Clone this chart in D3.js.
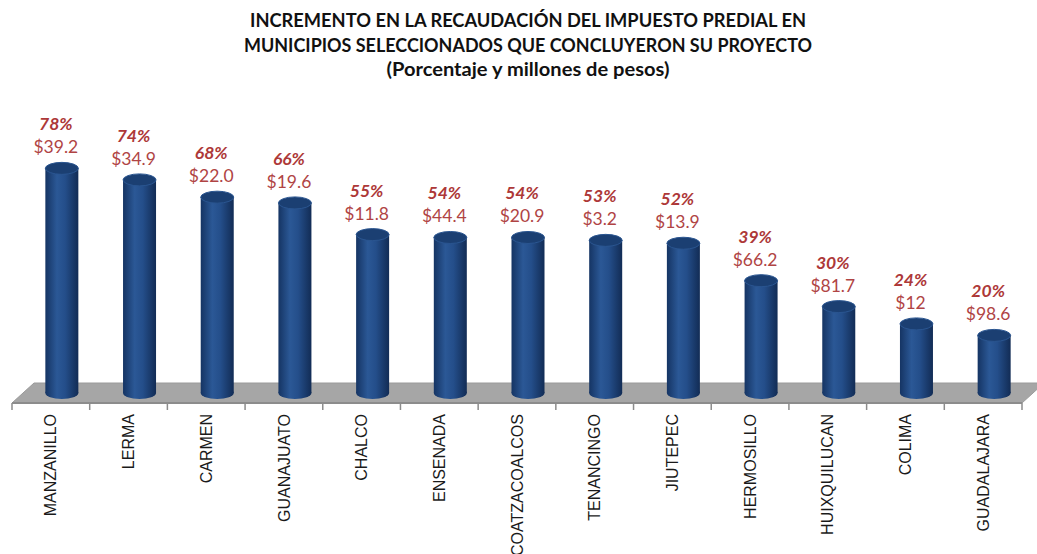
<!DOCTYPE html>
<html>
<head>
<meta charset="utf-8">
<script src="https://cdn.jsdelivr.net/npm/d3@7"></script>
<style>
  body { margin: 0; background: #fff; }
</style>
</head>
<body>
<script>
var municipios = ["MANZANILLO","LERMA","CARMEN","GUANAJUATO","CHALCO","ENSENADA","COATZACOALCOS","TENANCINGO","JIUTEPEC","HERMOSILLO","HUIXQUILUCAN","COLIMA","GUADALAJARA"]
var porcentajes = [78,74,68,66,55,54,54,53,52,39,30,24,20]
var montos = ["$39.2","$34.9","$22.0","$19.6","$11.8","$44.4","$20.9","$3.2","$13.9","$66.2","$81.7","$12","$98.6"]
var titulo = ["INCREMENTO EN LA RECAUDACIÓN DEL IMPUESTO PREDIAL EN",
              "MUNICIPIOS SELECCIONADOS QUE CONCLUYERON SU PROYECTO",
              "(Porcentaje y millones de pesos)"]
var tituloAncho = [556, 568, 283]

var width = 1037, height = 554
var depthX = 22, depthY = -20
var floorY = 403

var svg = d3.select("body").append("svg")
  .attr("width", width)
  .attr("height", height)

var defs = svg.append("defs")
var grad = defs.append("linearGradient").attr("id","cyl")
  .attr("x1","0%").attr("x2","100%").attr("y1","0%").attr("y2","0%")
grad.append("stop").attr("offset","0%").attr("stop-color","#153463")
grad.append("stop").attr("offset","35%").attr("stop-color","#2b5896")
grad.append("stop").attr("offset","60%").attr("stop-color","#244e8a")
grad.append("stop").attr("offset","100%").attr("stop-color","#122c55")

// title
svg.selectAll("text.title")
  .data(titulo)
  .enter()
  .append("text")
  .attr("class","title")
  .attr("x", 528)
  .attr("y", function(d,i){ return 27 + i*24.5 })
  .attr("text-anchor","middle")
  .attr("textLength", function(d,i){ return tituloAncho[i] })
  .attr("lengthAdjust","spacingAndGlyphs")
  .style("font-family","Lato, 'Open Sans', sans-serif")
  .style("font-weight","bold")
  .style("font-size","18px")
  .style("fill","#111")
  .text(function(d){ return d })

var x = d3.scaleBand()
  .domain(municipios)
  .range([12, 1022])

var y = d3.scaleLinear()
  .domain([0,100])
  .range([floorY + depthY/2, floorY + depthY/2 - 288])

// floor
var fx0 = 12, fx1 = 1022
svg.append("path")
  .attr("d", "M" + fx0 + "," + floorY + "L" + (fx0+depthX) + "," + (floorY+depthY) +
             "L" + (fx1+depthX) + "," + (floorY+depthY) + "L" + fx1 + "," + floorY + "Z")
  .style("fill","#a6a6a6")
  .style("stroke","#9a9a9a")

// axis line + ticks
svg.append("line")
  .attr("x1", fx0).attr("x2", fx1)
  .attr("y1", floorY).attr("y2", floorY)
  .style("stroke","#8c8c8c").style("stroke-width",2)

var ticks = municipios.map(function(d){ return x(d) }).concat([fx1])
svg.selectAll("line.tick")
  .data(ticks)
  .enter()
  .append("line")
  .attr("class","tick")
  .attr("x1", function(d){ return d }).attr("x2", function(d){ return d })
  .attr("y1", floorY).attr("y2", floorY + 7)
  .style("stroke","#8c8c8c").style("stroke-width",1.5)

// cylinders
var rx = 16.5, ry = 6
var bars = svg.selectAll("g.bar")
  .data(municipios)
  .enter()
  .append("g")
  .attr("class","bar")

var cx = function(d){ return x(d) + x.bandwidth()/2 + depthX/2 }

bars.append("ellipse")
  .attr("cx", cx)
  .attr("cy", y(0))
  .attr("rx", rx).attr("ry", ry)
  .style("fill","url(#cyl)")

bars.append("rect")
  .attr("x", function(d){ return cx(d) - rx })
  .attr("y", function(d,i){ return y(porcentajes[i]) })
  .attr("width", rx*2)
  .attr("height", function(d,i){ return y(0) - y(porcentajes[i]) })
  .style("fill","url(#cyl)")

bars.append("ellipse")
  .attr("cx", cx)
  .attr("cy", function(d,i){ return y(porcentajes[i]) })
  .attr("rx", rx).attr("ry", ry)
  .style("fill","#1b3f72")
  .style("stroke","#2a5590")
  .style("stroke-width",1)

// labels
bars.append("text")
  .attr("x", function(d){ return cx(d) - 6 })
  .attr("y", function(d,i){ return y(porcentajes[i]) - 38 })
  .attr("text-anchor","middle")
  .style("font-family","Lato, sans-serif")
  .style("font-weight","bold")
  .style("font-style","italic")
  .style("font-size","17.5px")
  .style("fill","#ad3838")
  .text(function(d,i){ return porcentajes[i] + "%" })

bars.append("text")
  .attr("x", function(d){ return cx(d) - 6 })
  .attr("y", function(d,i){ return y(porcentajes[i]) - 15 })
  .attr("text-anchor","middle")
  .style("font-family","Lato, sans-serif")
  .style("font-size","17.5px")
  .style("fill","#b04444")
  .text(function(d,i){ return montos[i] })

// category labels
svg.selectAll("text.cat")
  .data(municipios)
  .enter()
  .append("text")
  .attr("class","cat")
  .attr("transform", function(d){ return "translate(" + (x(d) + x.bandwidth()/2) + ",414) rotate(-90)" })
  .attr("dy","0.35em")
  .attr("text-anchor","end")
  .style("font-family","'Liberation Sans', Arial, sans-serif")
  .style("font-size","16px")
  .style("fill","#1a1a1a")
  .text(function(d){ return d })
</script>
</body>
</html>
